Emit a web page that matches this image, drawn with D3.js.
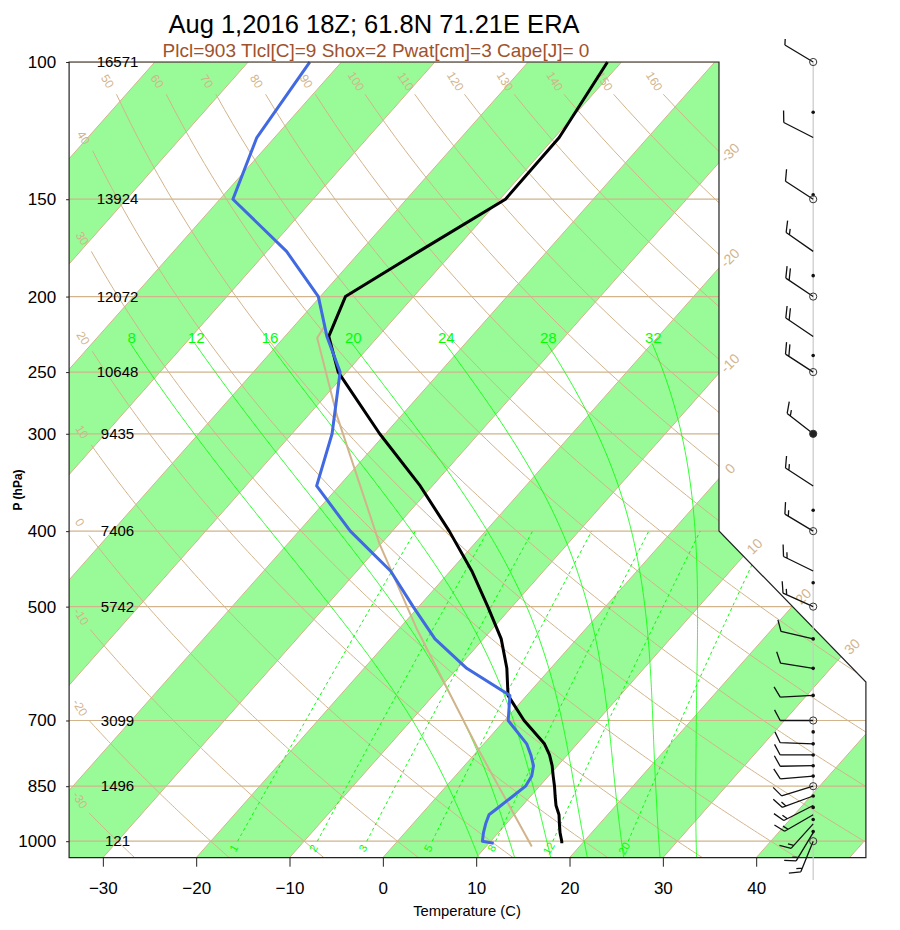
<!DOCTYPE html>
<html>
<head>
<meta charset="utf-8">
<script src="https://cdnjs.cloudflare.com/ajax/libs/d3/7.8.5/d3.min.js"></script>
<style>
body { margin: 0; background: #fff; }
text { font-family: "Liberation Sans", Arial, Helvetica, sans-serif; }
</style>
</head>
<body>
<svg width="900" height="930"></svg>
<script>
// sounding (ERA levels, first one is the surface)
var levels = [1006, 1000, 975, 950, 925, 900, 875, 850, 825, 800, 775, 750, 700, 650, 600, 550, 500, 450, 400, 350, 300, 250, 225, 200, 175, 150, 125, 100];
var temps  = [17.8, 17.6, 16.6, 15.7, 14.8, 13.6, 12.6, 11.6, 10.5, 9.4, 8.1, 6.5, 2.1, -2.0, -4.7, -8.1, -12.6, -17.7, -23.9, -31.3, -40.6, -50.9, -55.3, -57.3, -53.7, -49.4, -49.5, -51.5];
var dewpts = [10.5, 9.1, 8.4, 7.8, 7.3, 7.7, 8.1, 8.5, 8.2, 7.4, 6.1, 4.6, 0.4, -1.8, -9.0, -15.2, -20.6, -26.4, -34.5, -42.4, -45.7, -50.7, -55.5, -60.2, -67.9, -78.6, -81.9, -83.4];

// lifted parcel
var parcelP = [1016, 756, 535, 415, 285, 226, 219];
var parcelT = [14.9, -0.5, -18.0, -30.2, -46.8, -56.4, -56.7];

// winds (knots)
var windP   = [1000, 975, 950, 925, 900, 875, 850, 825, 800, 775, 750, 700, 650, 600, 550, 500, 450, 400, 350, 300, 250, 225, 200, 175, 150, 125, 100];
var windDir = [202, 211, 222, 240, 243, 250, 253, 265, 269, 270, 272, 270, 267, 279, 283, 294, 296, 301, 303, 308, 303, 304, 304, 305, 303, 297, 301];
var windSpd = [15, 15, 15, 15, 15, 15, 10, 10, 10, 10, 10, 10, 10, 10, 10, 15, 15, 15, 15, 15, 20, 20, 20, 15, 10, 10, 5];

var mandP   = [1000, 850, 700, 500, 400, 300, 250, 200, 150, 100];
var mandHgt = [121, 1496, 3099, 5742, 7406, 9435, 10648, 12072, 13924, 16571];
var dotP    = [972, 938, 905, 875, 825, 800, 775, 750, 724, 650, 600, 550, 466, 376, 238, 188, 148, 116];

// background
var tempTicks = [-30, -20, -10, 0, 10, 20, 30, 40];
var bandT     = [-160, -140, -120, -100, -80, -60, -40, -20, 0, 20, 40];
var isoLabT   = [-30, -20, -10, 0, 10, 20, 30];
var thetas    = [-30, -20, -10, 0, 10, 20, 30, 40, 50, 60, 70, 80, 90, 100, 110, 120, 130, 140, 150, 160];
var thetaW    = [8, 12, 16, 20, 24, 28, 32];
var mixR      = [1, 2, 3, 5, 8, 12, 20];

var title = "Aug 1,2016 18Z; 61.8N 71.21E ERA";
var subtitle = "Plcl=903 Tlcl[C]=9 Shox=2 Pwat[cm]=3 Cape[J]= 0";

var tan = "#d2b48c", green = "#00ff00";

var svg = d3.select("svg");

// skew-T coordinates (NCL style)
var ymin = -0.9346217, ymax = 44.061;
var frameX = [-19, 27.1, 27.1, 18.6, 18.6, -19, -19];
var frameY = [ymin, ymin, 9.0, 17.53866, ymax, ymax, ymin];

var x = d3.scaleLinear().domain([-19, 27.1]).range([69.1, 865.9]);
var y = d3.scaleLinear().domain([ymin, ymax]).range([857.7, 62]);
var pScale = d3.scaleLog()
    .domain([Math.pow(10, (132.182 - ymin) / 44.061), Math.pow(10, (132.182 - ymax) / 44.061)])
    .range([857.7, 62]);
var tScale = d3.scaleLinear()
    .domain([(-19 - 0.90692 * ymin) / 0.54, (27.1 - 0.90692 * ymin) / 0.54])
    .range([69.1, 865.9]);

function yp(p) { return 132.182 - 44.061 * Math.log10(p); }
function px(t, p) { return x(0.54 * t + 0.90692 * yp(p)); }
function py(p) { return pScale(p); }

var line = d3.line().x(function(d) { return px(d.t, d.p); }).y(function(d) { return py(d.p); });

svg.append("clipPath").attr("id", "clip")
    .append("polygon")
    .attr("points", frameX.map(function(d, i) { return [x(d), y(frameY[i])]; }).join(" "));

var g = svg.append("g").attr("clip-path", "url(#clip)");

// green bands between isotherms
g.selectAll(".band").data(bandT).join("polygon")
    .attr("fill", "#98fb98")
    .attr("points", function(t) {
        return [[t, ymin], [t + 10, ymin], [t + 10, ymax], [t, ymax]].map(function(d) {
            return [x(0.54 * d[0] + 0.90692 * d[1]), y(d[1])];
        }).join(" ");
    });

// isotherms
g.selectAll(".iso").data(d3.range(-160, 60, 10)).join("line")
    .attr("x1", function(t) { return x(0.54 * t + 0.90692 * ymin); })
    .attr("y1", y(ymin))
    .attr("x2", function(t) { return x(0.54 * t + 0.90692 * ymax); })
    .attr("y2", y(ymax))
    .attr("stroke", tan).attr("stroke-width", 1);

// isobars
g.selectAll(".isobar").data(mandP).join("line")
    .attr("x1", x(-19)).attr("x2", x(27.1))
    .attr("y1", py).attr("y2", py)
    .attr("stroke", tan).attr("stroke-width", 1.2);

// dry adiabats
var presSteps = d3.range(1050, 99, -5);
var dryStarts = [];
thetas.forEach(function(th) {
    var pts = presSteps.map(function(p) {
        return {p: p, t: (th + 273.16) * Math.pow(p / 1000, 0.28541) - 273.16};
    }).filter(function(d) { return px(d.t, d.p) >= 88 && py(d.p) >= 93; });
    if (!pts.length) return;
    g.append("path").attr("d", line(pts))
        .attr("fill", "none").attr("stroke", tan).attr("stroke-width", 1);
    var top = pts[pts.length - 1];
    dryStarts.push({th: th, x: px(top.t, top.p), y: py(top.p)});
});
svg.selectAll(".dlab").data(dryStarts).join("text")
    .attr("transform", function(d) { return "translate(" + (d.x - 9) + "," + (d.y - 13) + ") rotate(58)"; })
    .attr("text-anchor", "middle").attr("dy", "0.35em")
    .attr("font-size", 12).attr("fill", tan)
    .text(function(d) { return d.th; });

// moist adiabats: saturated lift from theta-w (Wobus function)
function wobf(t) {
    var x = t - 20, pol;
    if (x <= 0) {
        pol = 1 + x * (-8.8416605e-3 + x * (1.4714143e-4 + x * (-9.671989e-7 + x * (-3.2607217e-8 + x * (-3.8598073e-10)))));
        return 15.13 / Math.pow(pol, 4);
    }
    pol = 1 + x * (3.6182989e-3 + x * (-1.3603273e-5 + x * (4.9618922e-7 + x * (-6.1059365e-9 + x * (3.9401551e-11 + x * (-1.2588129e-13 + x * 1.668828e-16))))));
    return 29.93 / Math.pow(pol, 4) + 0.96 * x - 14.8;
}
function satlft(thw, p) {
    if (p === 1000) return thw;
    var cta = 273.16, akap = 0.28541;
    var pwrp = Math.pow(p / 1000, akap);
    var t1 = (thw + cta) * pwrp - cta;
    var e1 = wobf(t1) - wobf(thw);
    var rate = 1, t2 = t1, e2, ecce = 0;
    for (var k = 0; k < 60; k++) {
        t2 = t1 - e1 * rate;
        e2 = (t2 + cta) / pwrp - cta;
        e2 = e2 + wobf(t2) - wobf(e2) - thw;
        ecce = e2 * rate;
        if (Math.abs(ecce) <= 0.001) break;
        rate = (t2 - t1) / (e2 - e1);
        t1 = t2; e1 = e2;
    }
    return t2 - ecce;
}
var moistTops = [];
thetaW.forEach(function(tw) {
    var pts = d3.range(1050, 229, -5).map(function(p) { return {p: p, t: satlft(tw, p)}; });
    g.append("path").attr("d", line(pts))
        .attr("fill", "none").attr("stroke", green).attr("stroke-width", 0.8);
    var top = pts[pts.length - 1];
    moistTops.push({v: tw, x: px(top.t, top.p), y: py(top.p)});
});
svg.selectAll(".mlab").data(moistTops).join("text")
    .attr("x", function(d) { return d.x + 1; }).attr("y", function(d) { return d.y - 1; })
    .attr("text-anchor", "middle").attr("font-size", 15).attr("fill", green)
    .text(function(d) { return d.v; });

// mixing ratio lines
function tdOf(w, p) {
    var e = w * p / (622 + w), l = Math.log(e / 6.112);
    return 243.5 * l / (17.67 - l);
}
mixR.forEach(function(w) {
    var pts = d3.range(1000, 395, -10).map(function(p) { return {p: p, t: tdOf(w, p)}; });
    g.append("path").attr("d", line(pts))
        .attr("fill", "none").attr("stroke", green).attr("stroke-width", 1)
        .attr("stroke-dasharray", "3,3");
    svg.append("text")
        .attr("transform", "translate(" + (px(tdOf(w, 1000), 1000) - 4) + "," + (py(1000) + 7) + ") rotate(-60)")
        .attr("text-anchor", "middle").attr("dy", "0.35em")
        .attr("font-size", 11).attr("fill", green).text(w);
});

// isotherm labels where the lines leave the diagram
isoLabT.forEach(function(t) {
    var yy = (18.6 - 0.54 * t) / 0.90692, xx = 18.6;
    if (yy < 17.53866) {
        yy = (18.6 + 0.99547 * 17.53866 - 0.54 * t) / (0.90692 + 0.99547);
        xx = 0.54 * t + 0.90692 * yy;
    }
    svg.append("text")
        .attr("transform", "translate(" + (x(xx) + 11) + "," + (y(yy) - 10) + ") rotate(-45)")
        .attr("text-anchor", "middle").attr("dy", "0.35em")
        .attr("font-size", 14).attr("fill", tan).text(t);
});

// sounding
var parcel = parcelP.map(function(p, i) { return {p: p, t: parcelT[i]}; });
var tLine = levels.map(function(p, i) { return {p: p, t: temps[i]}; });
var dLine = levels.map(function(p, i) { return {p: p, t: dewpts[i]}; });

svg.append("path").attr("d", line(parcel))
    .attr("fill", "none").attr("stroke", tan).attr("stroke-width", 2);
svg.append("path").attr("d", line(tLine))
    .attr("fill", "none").attr("stroke", "#000").attr("stroke-width", 3).attr("stroke-linejoin", "round");
svg.append("path").attr("d", line(dLine))
    .attr("fill", "none").attr("stroke", "#4169e1").attr("stroke-width", 3).attr("stroke-linejoin", "round");

// frame
svg.append("polygon")
    .attr("points", frameX.map(function(d, i) { return [x(d), y(frameY[i])]; }).join(" "))
    .attr("fill", "none").attr("stroke", "#222").attr("stroke-width", 1.2);

// axes
var xAxis = svg.append("g")
    .attr("transform", "translate(0," + y(ymin) + ")")
    .call(d3.axisBottom(tScale).tickValues(tempTicks).tickSize(9).tickPadding(15).tickSizeOuter(0));
xAxis.select(".domain").remove();
xAxis.selectAll("text").attr("font-size", 17).attr("fill", "#000").attr("font-family", null);
xAxis.selectAll("line").attr("stroke", "#222");

var yAxis = svg.append("g")
    .attr("transform", "translate(" + x(-19) + ",0)")
    .call(d3.axisLeft(pScale).tickValues(mandP).tickFormat(d3.format("d")).tickSize(3).tickPadding(10));
yAxis.select(".domain").remove();
yAxis.selectAll("text").attr("font-size", 17).attr("fill", "#000").attr("font-family", null);
yAxis.selectAll("line").attr("stroke", "#222");

svg.selectAll(".hgt").data(mandP).join("text")
    .attr("x", 117.5).attr("y", py).attr("dy", "0.35em")
    .attr("text-anchor", "middle").attr("font-size", 15).attr("fill", "#000")
    .text(function(d, i) { return mandHgt[i]; });

svg.append("text")
    .attr("transform", "translate(22,490) rotate(-90)")
    .attr("text-anchor", "middle").attr("font-size", 12).attr("font-weight", "bold")
    .text("P (hPa)");
svg.append("text")
    .attr("x", 467).attr("y", 916).attr("text-anchor", "middle").attr("font-size", 14.8)
    .text("Temperature (C)");

svg.append("text").attr("x", 374).attr("y", 33).attr("text-anchor", "middle")
    .attr("font-size", 25.5).attr("fill", "#000").text(title);
svg.append("text").attr("x", 376).attr("y", 57).attr("text-anchor", "middle")
    .attr("font-size", 19).attr("fill", "#a0522d").text(subtitle);

// wind profile
var bx = x(24.05);
svg.append("line").attr("x1", bx).attr("x2", bx).attr("y1", py(100)).attr("y2", 880)
    .attr("stroke", "#c8c8c8").attr("stroke-width", 1.2);

function barbPath(p, dir, spd) {
    var L = 33, F = 12, S = 4;
    var by = py(p);
    var a = dir * Math.PI / 180, ux = Math.sin(a), uy = -Math.cos(a);
    var fa = (dir + 62) * Math.PI / 180, fx = Math.sin(fa), fy = -Math.cos(fa);
    var tx = bx + L * ux, ty = by + L * uy;
    var d = "M" + bx + "," + by + "L" + tx + "," + ty;
    var n = Math.round(spd / 5), full = Math.floor(n / 2), pos = 0;
    for (var i = 0; i < full; i++) {
        var sx = tx - pos * ux, sy = ty - pos * uy;
        d += "M" + sx + "," + sy + "l" + (F * fx) + "," + (F * fy);
        pos += S;
    }
    if (n % 2) {
        var hx = tx - pos * ux, hy = ty - pos * uy;
        d += "M" + hx + "," + hy + "l" + (F / 2 * fx) + "," + (F / 2 * fy);
    }
    return d;
}
svg.selectAll(".barb").data(windP).join("path")
    .attr("d", function(p, i) { return barbPath(p, windDir[i], windSpd[i]); })
    .attr("fill", "none").attr("stroke", "#111").attr("stroke-width", 1.3);

svg.selectAll(".dot").data(dotP).join("circle")
    .attr("cx", bx).attr("cy", py).attr("r", 1.8).attr("fill", "#111");
svg.selectAll(".ring").data(mandP).join("circle")
    .attr("cx", bx).attr("cy", py).attr("r", 3.6)
    .attr("fill", function(p) { return p === 300 ? "#222" : "none"; })
    .attr("stroke", "#333").attr("stroke-width", 1);
</script>
</body>
</html>
